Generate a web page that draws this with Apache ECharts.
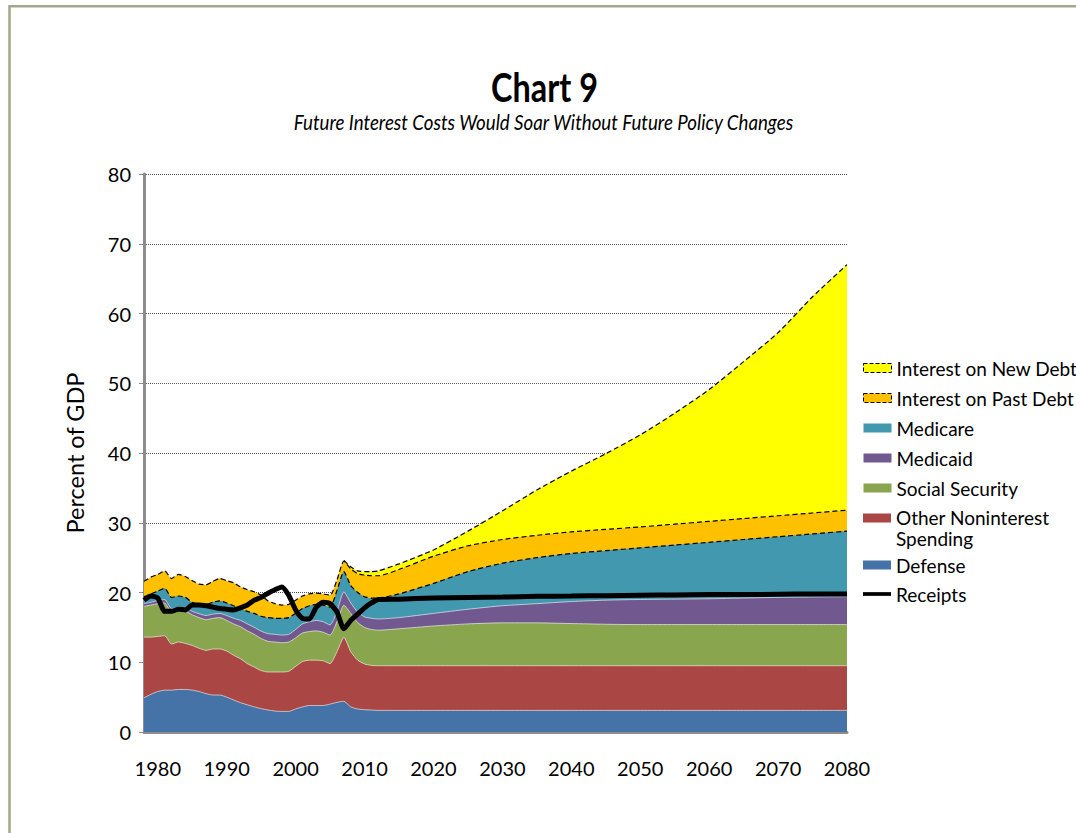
<!DOCTYPE html>
<html>
<head>
<meta charset="utf-8">
<script src="https://cdn.jsdelivr.net/npm/echarts@6/dist/echarts.min.js"></script>
<style>html,body{margin:0;padding:0;background:#fff}#chart{width:1076px;height:833px}</style>
</head>
<body>
<div id="chart"></div>
<script>
const years = [1978,1979,1980,1981,1982,1983,1984,1985,1986,1987,1988,1989,1990,1991,1992,1993,1994,1995,1996,1997,1998,1999,2000,2001,2002,2003,2004,2005,2006,2007,2008,2009,2010,2011,2012,2015,2020,2025,2030,2035,2040,2045,2050,2055,2060,2065,2070,2075,2080];
const xTickLabels = [1980,1990,2000,2010,2020,2030,2040,2050,2060,2070,2080];

const defense = [4.9,5.4,5.8,6.0,6.0,6.1,6.1,6.0,5.8,5.5,5.3,5.3,5.0,4.6,4.2,3.9,3.6,3.35,3.15,3.0,2.95,2.95,3.3,3.6,3.8,3.8,3.8,4.0,4.25,4.4,3.6,3.3,3.2,3.15,3.1,
  3.1,3.1,3.1,3.1,3.1,3.1,3.1,3.1,3.1,3.1,3.1,3.1,3.1,3.1];
const otherSpending = [8.7,8.2,7.9,7.8,6.6,6.8,6.6,6.4,6.2,6.2,6.6,6.6,6.6,6.4,6.3,5.9,5.7,5.45,5.45,5.6,5.65,5.75,6.1,6.5,6.5,6.5,6.4,5.8,7.25,9.2,7.9,7.0,6.55,6.4,6.4,
  6.4,6.4,6.4,6.4,6.4,6.4,6.4,6.4,6.4,6.4,6.4,6.4,6.4,6.4];
const socialSecurity = [4.4,4.6,4.7,4.7,4.6,4.4,4.6,4.4,4.4,4.4,4.4,4.5,4.4,4.5,4.6,4.7,4.7,4.6,4.4,4.3,4.2,4.2,4.1,4.1,4.1,4.2,4.1,4.1,4.3,4.6,5.5,5.4,5.25,5.15,5.1,
  5.3,5.7,6.0,6.15,6.15,6.05,5.95,5.9,5.9,5.9,5.9,5.9,5.9,5.9];
const medicaid = [0.4,0.4,0.45,0.5,0.5,0.5,0.5,0.5,0.55,0.6,0.6,0.6,0.7,0.8,0.9,1.0,1.0,1.05,1.1,1.1,1.1,1.1,1.2,1.3,1.4,1.5,1.5,1.45,1.5,1.9,1.5,1.5,1.5,1.6,1.6,
  1.6,1.8,2.1,2.45,2.75,3.15,3.45,3.6,3.65,3.7,3.8,3.9,3.95,4.0];
const medicare = [1.0,1.2,1.35,1.6,1.6,1.7,1.5,1.3,1.35,1.6,1.7,1.8,1.8,1.8,1.7,1.8,2.0,2.15,2.3,2.3,2.4,2.4,2.3,2.2,2.3,2.3,2.4,2.55,3.0,2.9,2.5,2.8,2.9,2.9,3.0,
  3.4,4.3,5.4,6.1,6.6,6.9,7.1,7.4,7.75,8.1,8.4,8.7,9.05,9.4];
const interestPastDebt = [2.2,2.4,2.4,2.5,2.7,3.1,3.0,3.1,2.9,2.8,3.0,3.2,3.2,3.3,3.1,3.1,3.1,3.0,2.4,2.1,1.9,1.9,1.9,1.8,1.7,1.6,1.6,1.7,1.5,1.5,2.4,2.7,3.1,3.2,3.2,
  3.5,3.9,3.7,3.4,3.2,3.1,3.05,3.0,3.0,3.0,3.0,3.0,3.0,3.0];
const interestNewDebt = [null,null,null,null,null,null,null,null,null,null,null,null,null,null,null,null,null,null,null,null,null,null,null,null,null,null,null,null,null,
  0.1,0.3,0.4,0.5,0.6,0.7,
  0.8,0.9,2.1,4.1,6.5,8.7,10.85,13.2,15.9,18.9,22.5,26.25,31.0,35.2];
const receipts = [18.9,19.5,19.2,17.3,17.3,17.6,17.5,18.2,18.2,18.1,17.9,17.7,17.6,17.5,17.8,18.2,18.9,19.3,19.9,20.4,20.8,19.6,17.5,16.3,16.2,17.9,18.6,18.4,17.2,14.8,16.0,16.9,17.8,18.5,19.0,
  19.05,19.2,19.3,19.35,19.45,19.5,19.55,19.6,19.65,19.7,19.7,19.75,19.8,19.8];

const FONT = 'Lato';
const SMOOTH = 0.2;

// stack the layers (bottom to top): each layer's top = running sum
const layerDefs = [
  { name: 'Defense', data: defense, color: '#4572A7', line: 'light' },
  { name: 'Other Noninterest Spending', data: otherSpending, color: '#AA4643', line: 'light' },
  { name: 'Social Security', data: socialSecurity, color: '#89A54E', line: 'light' },
  { name: 'Medicaid', data: medicaid, color: '#71588F', line: 'light' },
  { name: 'Medicare', data: medicare, color: '#4198AF', line: 'dash' },
  { name: 'Interest on Past Debt', data: interestPastDebt, color: '#FFC000', line: 'dash' },
  { name: 'Interest on New Debt', data: interestNewDebt, color: '#FFFF00', line: 'dash' }
];
const running = years.map(() => 0);
layerDefs.forEach(l => {
  l.top = years.map((y, i) => {
    const v = l.data[i];
    if (v === null) return [y, null];
    running[i] += v;
    return [y, +running[i].toFixed(3)];
  });
});

function areaSeries(l) {
  return {
    name: l.name, type: 'line', data: l.top,
    symbol: 'none', showSymbol: false, connectNulls: false, smooth: SMOOTH,
    color: l.color,
    itemStyle: { color: l.color },
    areaStyle: { color: l.color, opacity: 1, origin: 'start' },
    lineStyle: l.line === 'dash' ? { color: '#000', width: 1.2, type: [5, 3] }
                                 : { color: 'rgba(255,255,255,0.6)', width: 1 },
    emphasis: { disabled: true },
    z: 2
  };
}
// draw from the top layer down so each lower layer paints over the one above
const areaSeriesList = layerDefs.slice().reverse().map(areaSeries);

function fitScale(text, font, target) {
  const ctx = document.createElement('canvas').getContext('2d');
  ctx.font = font;
  return target / ctx.measureText(text).width;
}
const titleText = 'Chart 9';
const subText = 'Future Interest Costs Would Soar Without Future Policy Changes';
const titleScale = fitScale(titleText, 'bold 41px Lato', 107);
const subScale = fitScale(subText, 'italic 21px Lato', 501);

const chart = echarts.init(document.getElementById('chart'), null, { renderer: 'svg' });
const solid = { borderWidth: 0 };
const dashedBorder = { borderColor: '#000', borderWidth: 1, borderType: 'dashed' };
const legendText = { fontFamily: FONT, fontSize: 19, color: '#000', lineHeight: 20 };

chart.setOption({
  animation: false,
  backgroundColor: '#fff',
  graphic: [
    { type: 'rect', shape: { x: 9.5, y: 6.2, width: 2000, height: 2000 }, style: { fill: 'none', stroke: '#a4a78c', lineWidth: 2.5 }, silent: true, z: 100 },
    { type: 'text', x: 544.5, y: 86, scaleX: titleScale, silent: true,
      style: { text: titleText, fontFamily: FONT, fontWeight: 'bold', fontSize: 41, fill: '#000', align: 'center', verticalAlign: 'middle' } },
    { type: 'text', x: 543.5, y: 122, scaleX: subScale, silent: true,
      style: { text: subText, fontFamily: FONT, fontStyle: 'italic', fontSize: 21, fill: '#000', align: 'center', verticalAlign: 'middle' } }
  ],
  grid: { left: 144, top: 174, right: 229, bottom: 101 },
  xAxis: {
    type: 'value', min: 1978, max: 2080,
    axisLine: { show: true, lineStyle: { color: '#8c8c8c', width: 3 } },
    axisTick: { show: false },
    splitLine: { show: false },
    axisLabel: { customValues: xTickLabels, fontFamily: FONT, fontSize: 20, color: '#000', margin: 26, formatter: v => String(v) }
  },
  yAxis: {
    type: 'value', min: 0, max: 80, interval: 10,
    name: 'Percent of GDP', nameLocation: 'middle', nameGap: 57,
    nameTextStyle: { fontFamily: FONT, fontSize: 23.5, color: '#000' },
    axisLine: { show: true, lineStyle: { color: '#8c8c8c', width: 3 } },
    axisTick: { show: true, length: 5, lineStyle: { color: '#8c8c8c', width: 1 } },
    axisLabel: { fontFamily: FONT, fontSize: 20, color: '#000', margin: 13 },
    splitLine: { show: true, lineStyle: { color: '#555', width: 1, type: [1, 1] } }
  },
  legend: [
    { orient: 'vertical', left: 863, top: 358, padding: 0, itemGap: 10, itemWidth: 28, itemHeight: 9, textStyle: legendText, selectedMode: false,
      data: [
        { name: 'Interest on New Debt', icon: 'rect', itemStyle: dashedBorder },
        { name: 'Interest on Past Debt', icon: 'rect', itemStyle: dashedBorder },
        { name: 'Medicare', icon: 'rect', itemStyle: solid },
        { name: 'Medicaid', icon: 'rect', itemStyle: solid },
        { name: 'Social Security', icon: 'rect', itemStyle: solid }
      ] },
    // two-line entry: the icon shape sits at the top of a 28x29 box so it lines up with the first text line
    { orient: 'vertical', left: 863, top: 507, padding: 0, itemWidth: 28, itemHeight: 29, selectedMode: false,
      textStyle: Object.assign({}, legendText, { lineHeight: 21 }),
      formatter: n => n === 'Other Noninterest Spending' ? 'Other Noninterest\nSpending' : n,
      data: [ { name: 'Other Noninterest Spending', icon: 'path://M0,0H28V9H0Z M27.95,28.95H28V29H27.95Z', itemStyle: solid } ] },
    { orient: 'vertical', left: 863, top: 555, padding: 0, itemGap: 9, itemWidth: 28, itemHeight: 9, textStyle: legendText, selectedMode: false,
      data: [
        { name: 'Defense', icon: 'rect', itemStyle: solid },
        { name: 'Receipts', icon: 'path://M0,0L30,0L30,4L0,4Z', itemStyle: { color: '#000', borderWidth: 0 } }
      ] }
  ],
  series: areaSeriesList.concat([
    {
      name: 'Receipts', type: 'line', data: years.map((y, i) => [y, receipts[i]]), symbol: 'none', showSymbol: false,
      smooth: SMOOTH,
      color: '#000', lineStyle: { color: '#000', width: 5 }, emphasis: { disabled: true }, z: 5
    }
  ])
});
</script>
</body>
</html>
